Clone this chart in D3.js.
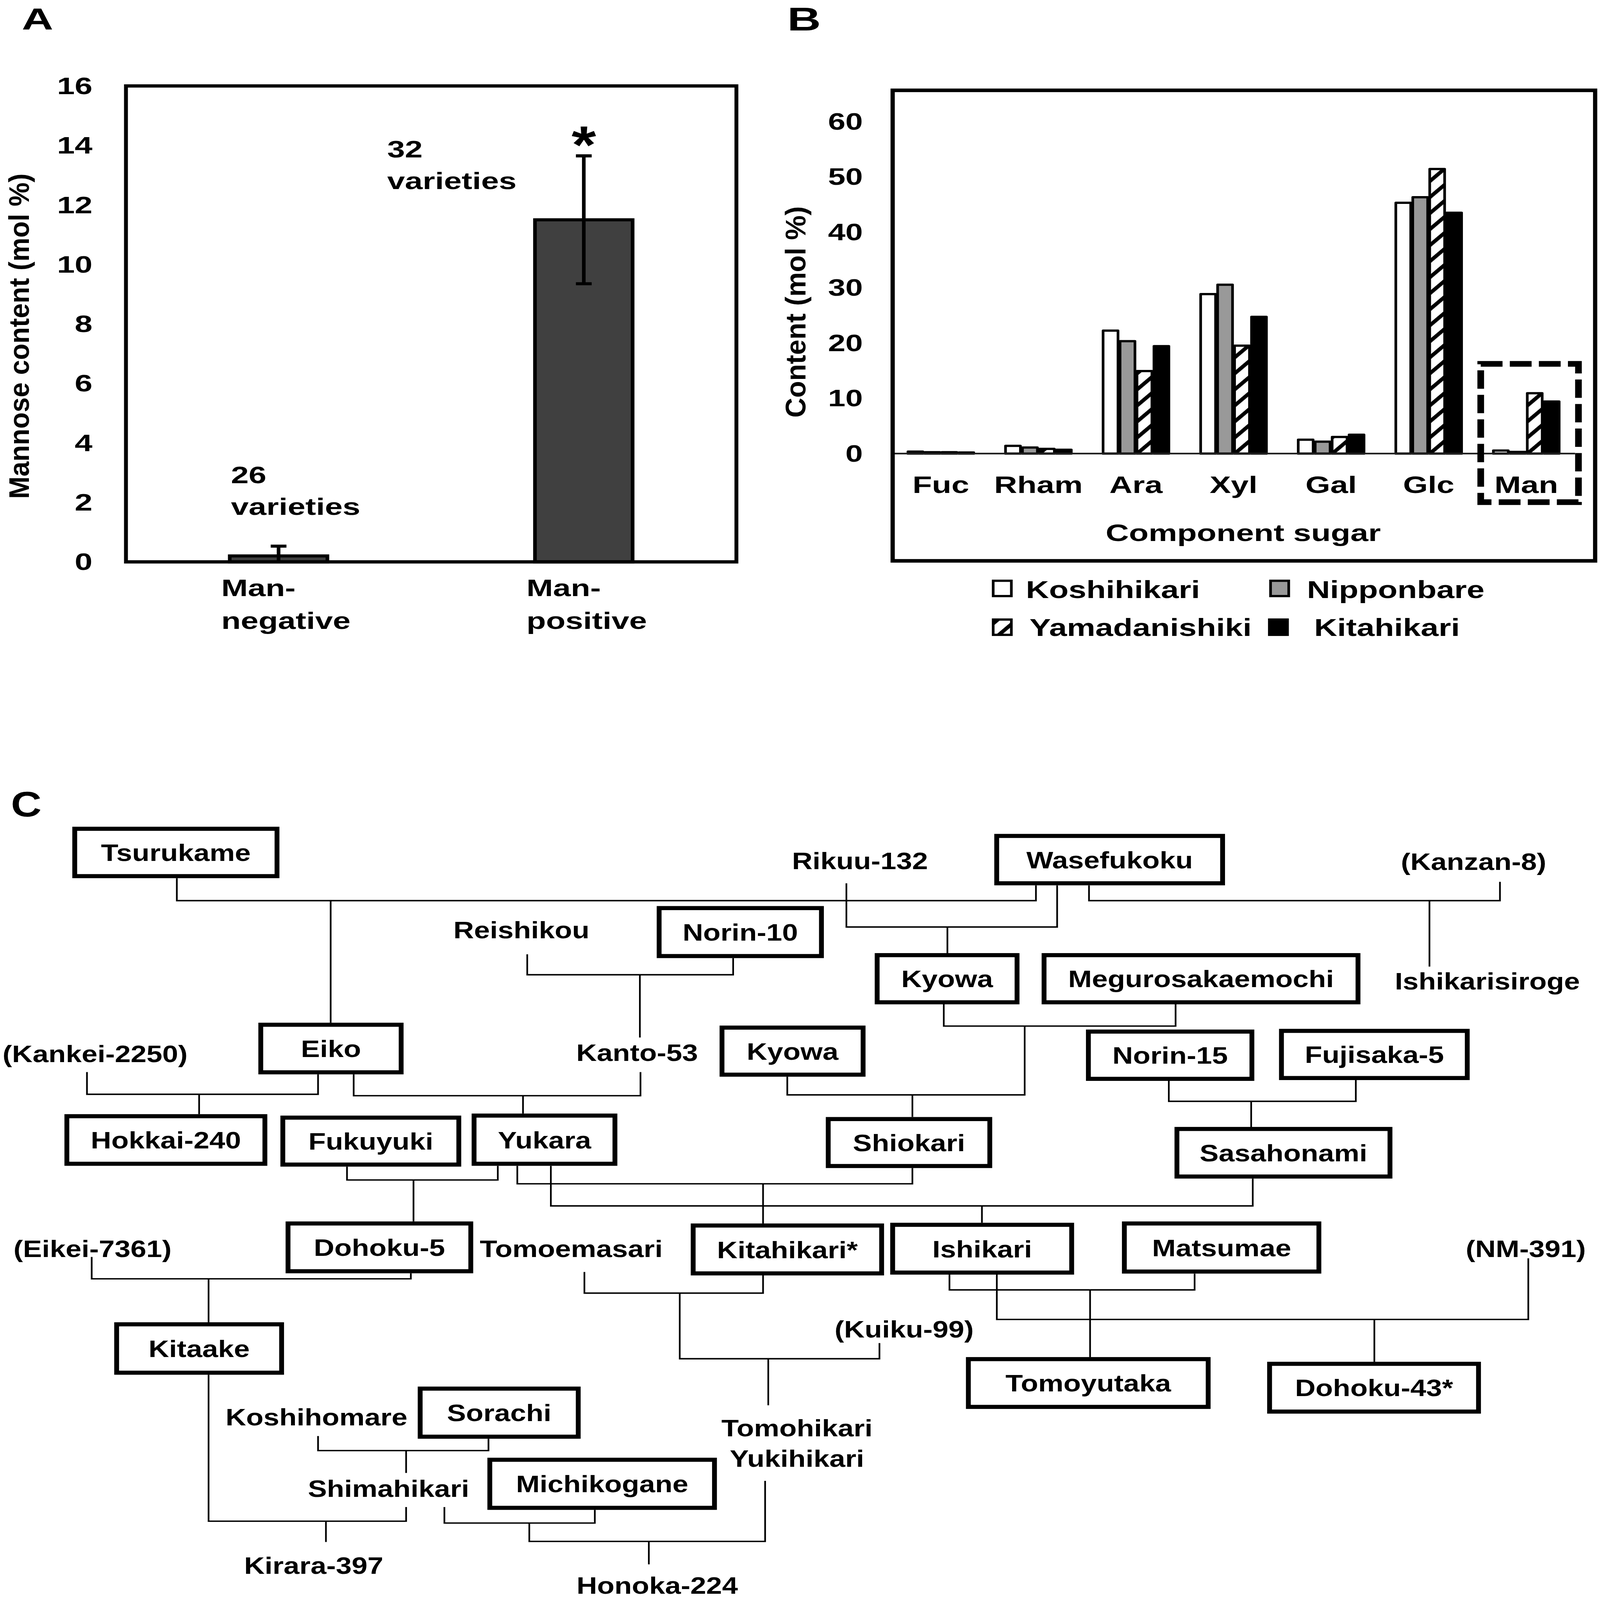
<!DOCTYPE html>
<html>
<head>
<meta charset="utf-8">
<script src="https://cdn.jsdelivr.net/npm/d3@7"></script>
<style>
  html, body { margin: 0; padding: 0; background: #fff; overflow: hidden; }
  svg { display: block; width: 100vw; height: 100vh; }
</style>
</head>
<body>
<div id="chart"></div>
<script>
// ---- panel A data ----
const groupsA = ['Man-negative', 'Man-positive'];
const axisLabelsA = [['Man-', 'negative'], ['Man-', 'positive']];
const meanA = [0.2, 11.5];
const errA = [0.33, 2.15];
const countsA = ['26', '32'];
const ticksA = [0, 2, 4, 6, 8, 10, 12, 14, 16];

// ---- panel B data ----
const sugars = ['Fuc', 'Rham', 'Ara', 'Xyl', 'Gal', 'Glc', 'Man'];
const varieties = ['Koshihikari', 'Nipponbare', 'Yamadanishiki', 'Kitahikari'];
const koshihikari = [0.35, 1.4, 22.2, 28.8, 2.5, 45.3, 0.55];
const nipponbare = [0.25, 1.1, 20.3, 30.5, 2.15, 46.3, 0.3];
const yamadanishiki = [0.25, 0.85, 14.9, 19.5, 3.0, 51.4, 10.9];
const kitahikari = [0.2, 0.7, 19.4, 24.7, 3.4, 43.5, 9.4];
const ticksB = [0, 10, 20, 30, 40, 50, 60];

// ---- panel C data (pedigree) ----
const registered = ['Tsurukame', 'Wasefukoku', 'Norin-10', 'Kyowa/a', 'Megurosakaemochi', 'Eiko',
  'Kyowa/b', 'Norin-15', 'Fujisaka-5', 'Hokkai-240', 'Fukuyuki', 'Yukara', 'Shiokari', 'Sasahonami',
  'Dohoku-5', 'Kitahikari*', 'Ishikari', 'Matsumae', 'Kitaake', 'Sorachi', 'Michikogane',
  'Tomoyutaka', 'Dohoku-43*'];
const others = ['Rikuu-132', '(Kanzan-8)', 'Reishikou', 'Ishikarisiroge', '(Kankei-2250)', 'Kanto-53',
  '(Eikei-7361)', 'Tomoemasari', '(NM-391)', '(Kuiku-99)', 'Koshihomare', 'Tomohikari/Yukihikari',
  'Shimahikari', 'Kirara-397', 'Honoka-224'];
// [mother, father, offspring]; F1-x are unnamed intermediate crosses
const crosses = [
  ['Tsurukame', 'Wasefukoku', 'Eiko'],
  ['Rikuu-132', 'Wasefukoku', 'Kyowa/a'],
  ['Wasefukoku', '(Kanzan-8)', 'Ishikarisiroge'],
  ['Reishikou', 'Norin-10', 'Kanto-53'],
  ['(Kankei-2250)', 'Eiko', 'Hokkai-240'],
  ['Eiko', 'Kanto-53', 'Yukara'],
  ['Kyowa/a', 'Megurosakaemochi', 'F1-a'],
  ['Kyowa/b', 'F1-a', 'Shiokari'],
  ['Norin-15', 'Fujisaka-5', 'Sasahonami'],
  ['Fukuyuki', 'Yukara', 'Dohoku-5'],
  ['Yukara', 'Shiokari', 'Kitahikari*'],
  ['Yukara', 'Sasahonami', 'Ishikari'],
  ['(Eikei-7361)', 'Dohoku-5', 'Kitaake'],
  ['Tomoemasari', 'Kitahikari*', 'F1-b'],
  ['F1-b', '(Kuiku-99)', 'Tomohikari/Yukihikari'],
  ['Ishikari', 'Matsumae', 'Tomoyutaka'],
  ['Ishikari', '(NM-391)', 'Dohoku-43*'],
  ['Koshihomare', 'Sorachi', 'Shimahikari'],
  ['Kitaake', 'Shimahikari', 'Kirara-397'],
  ['Shimahikari', 'Michikogane', 'F1-c'],
  ['F1-c', 'Tomohikari/Yukihikari', 'Honoka-224']
];

// ---- pedigree layout (diagram coordinates) ----
const boxPos = {
  'Tsurukame': [61.7, 812, 167, 46.4], 'Wasefukoku': [822.9, 819, 186.5, 46.4],
  'Norin-10': [544.2, 889.7, 134, 47], 'Kyowa/a': [724.2, 935.8, 115.5, 46.2],
  'Megurosakaemochi': [862, 935.8, 259.2, 46.2], 'Eiko': [215.3, 1004, 115.9, 46.6],
  'Kyowa/b': [596.1, 1006.8, 116.5, 46.1], 'Norin-15': [898.6, 1010.7, 135, 46.3],
  'Fujisaka-5': [1058, 1010, 153.4, 46.2], 'Hokkai-240': [55.2, 1093.6, 163.5, 46.6],
  'Fukuyuki': [233.5, 1095, 145.3, 46], 'Yukara': [391.4, 1093, 116.3, 47.2],
  'Shiokari': [683.8, 1096.4, 133.4, 46], 'Sasahonami': [971.7, 1106.1, 175.9, 46.6],
  'Dohoku-5': [237.8, 1198.7, 150.9, 46.8], 'Kitahikari*': [572.3, 1200.7, 155.6, 46.9],
  'Ishikari': [737, 1200, 147.8, 46.8], 'Matsumae': [928.3, 1198.7, 160.6, 47.1],
  'Kitaake': [96.3, 1297.5, 136.2, 47.4], 'Sorachi': [346.9, 1360.5, 130.5, 47.1],
  'Michikogane': [404.4, 1430.2, 185.5, 47.1], 'Tomoyutaka': [799.5, 1331.6, 198, 46.8],
  'Dohoku-43*': [1048.2, 1336.2, 172.5, 46.8]
};
// [centre x, cap-centre y, line end above, line start below]
const labelPos = {
  'Rikuu-132': [710, 843, null, 865.4], '(Kanzan-8)': [1216.6, 844, null, 864],
  'Reishikou': [430.5, 910.7, null, 935], 'Ishikarisiroge': [1228, 961, 947, null],
  '(Kankei-2250)': [78.5, 1032, null, 1050.4], 'Kanto-53': [526, 1031, 1016.5, 1050.4],
  '(Eikei-7361)': [76.4, 1223, null, 1231.5], 'Tomoemasari': [471.6, 1223, null, 1246.2],
  '(NM-391)': [1259.7, 1223, null, 1232.8], '(Kuiku-99)': [746.5, 1302, null, 1315.9],
  'Koshihomare': [261.3, 1388, null, 1407], 'Tomohikari/Yukihikari': [658, 1399, 1376.8, 1450.9],
  'Shimahikari': [320.8, 1458, 1443.1, 1476.5], 'Kirara-397': [259, 1533.5, 1510.8, null],
  'Honoka-224': [542.6, 1553, 1532.7, null]
};
// [drop x mother, drop x father, bar y, offspring x]
const crossPos = [
  [146, 855.3, 882.4, 273], [698.8, 872.8, 908.2, 782.2], [899.1, 1238.4, 882.4, 1180.2],
  [435.3, 605.3, 955, 528.3], [71.8, 262.6, 1072.1, 164.4], [292, 528.8, 1073.5, 431.8],
  [779.2, 970.6, 1005.3, 846], [650, 846, 1072.7, 753.3], [965, 1119.4, 1079, 1033],
  [286.5, 411, 1156.1, 341.4], [427.1, 753.3, 1159.8, 630], [454.8, 1034.3, 1181.5, 810.7],
  [75.7, 339.2, 1252.9, 172.2], [482.5, 630, 1266.9, 561.2], [561.2, 726.1, 1331.2, 634.3],
  [783.9, 986.3, 1263.8, 900], [823, 1261.8, 1292.7, 1134.7], [262.6, 403.3, 1421.2, 335.3],
  [172.2, 335.3, 1490.4, 269.1], [366.9, 491.1, 1492.2, 437], [437, 631.7, 1510.2, 535.7]
];

const W = 1321, H = 1567.6;
const svg = d3.select('#chart').append('svg')
  .attr('xmlns', 'http://www.w3.org/2000/svg')
  .attr('viewBox', '0 0 ' + W + ' ' + H)
  .attr('preserveAspectRatio', 'none')
  .style('font-family', "'Liberation Sans', Arial, sans-serif")
  .style('font-weight', 'bold');

svg.append('rect').attr('width', W).attr('height', H).attr('fill', '#fff');

let put = (g, x, y, str, size, opts = {}) => {
  return g.append('text')
    .attr('transform', 'translate(' + x + ',' + y + ')' + (opts.rotate ? ' rotate(' + opts.rotate + ')' : '') +
      ' scale(' + (opts.sx || 1) + ',1)')
    .attr('text-anchor', opts.anchor || 'start')
    .attr('font-size', size)
    .attr('fill', '#000')
    .text(str);
};

let cleanAxis = (g, size, sx) => {
  g.select('.domain').remove();
  g.attr('font-family', null).attr('font-size', size);
  g.selectAll('text').attr('fill', '#000').attr('transform', 'scale(' + sx + ',1)');
};

// ================= Panel A =================
const gA = svg.append('g');
const yA = d3.scaleLinear().domain([0, 16]).range([550.5, 84.2]);
const xA = d3.scaleBand().domain(groupsA).range([104, 608]).paddingInner(0.68).paddingOuter(0.34);

put(gA, 18, 29, 'A', 30, { sx: 1.2 });

gA.append('g').attr('transform', 'translate(104,0)')
  .call(d3.axisLeft(yA).tickValues(ticksA).tickSize(0).tickPadding(24.7))
  .call(g => cleanAxis(g, 23.5, 1.12));

put(gA, 24, (yA(16) + yA(0)) / 2 + 12, 'Mannose content (mol %)', 23.5, { rotate: -90, anchor: 'middle', sx: 1.12 });

gA.selectAll('rect.bar').data(groupsA).join('rect')
  .attr('class', 'bar')
  .attr('x', d => xA(d))
  .attr('width', xA.bandwidth())
  .attr('y', (d, i) => yA(meanA[i]))
  .attr('height', (d, i) => yA(0) - yA(meanA[i]))
  .attr('fill', '#404040')
  .attr('stroke', '#000')
  .attr('stroke-width', 3);

// error bars
gA.selectAll('path.err').data(groupsA).join('path')
  .attr('class', 'err')
  .attr('d', (d, i) => {
    const cx = xA(d) + xA.bandwidth() / 2;
    const top = yA(meanA[i] + errA[i]);
    const lowV = meanA[i] - errA[i];
    const bot = yA(Math.max(0, lowV));
    let p = 'M' + (cx - 6.5) + ',' + top + 'H' + (cx + 6.5) + 'M' + cx + ',' + top + 'V' + bot;
    if (lowV > 0) p += 'M' + (cx - 6.5) + ',' + bot + 'H' + (cx + 6.5);
    return p;
  })
  .attr('fill', 'none').attr('stroke', '#000').attr('stroke-width', 3);

// significance mark
const posX = xA('Man-positive') + xA.bandwidth() / 2;
put(gA, posX, yA(meanA[1] + errA[1]) + 7, '*', 52, { anchor: 'middle' });

// sample counts
put(gA, xA('Man-positive') - 122, yA(13.6), countsA[1], 23.5, { sx: 1.12 });
put(gA, xA('Man-positive') - 122, yA(13.6) + 31, 'varieties', 23.5, { sx: 1.12 });
put(gA, xA('Man-negative') + 1, yA(2.65), countsA[0], 23.5, { sx: 1.12 });
put(gA, xA('Man-negative') + 1, yA(2.65) + 31, 'varieties', 23.5, { sx: 1.12 });

// category labels
groupsA.forEach((d, i) => {
  put(gA, xA(d) - 7, 584, axisLabelsA[i][0], 23.5, { sx: 1.12 });
  put(gA, xA(d) - 7, 616, axisLabelsA[i][1], 23.5, { sx: 1.12 });
});

gA.append('rect')
  .attr('x', 104).attr('y', yA(16))
  .attr('width', 504).attr('height', yA(0) - yA(16))
  .attr('fill', 'none').attr('stroke', '#000').attr('stroke-width', 3.2);

// ================= Panel B =================
const gB = svg.append('g');
const yB = d3.scaleLinear().domain([0, 60]).range([444.4, 118.9]);
const xB = d3.scaleBand().domain(sugars).range([736.5, 1300.4]).paddingInner(0.305).paddingOuter(0.1525);
const xS = d3.scaleBand().domain(varieties).range([0, xB.bandwidth()]).paddingInner(0.12).paddingOuter(0.06);
const seriesB = [koshihikari, nipponbare, yamadanishiki, kitahikari];

const defs = svg.append('defs');
defs.append('pattern')
  .attr('id', 'hatch')
  .attr('patternUnits', 'userSpaceOnUse')
  .attr('width', 11.1).attr('height', 11.1)
  .attr('patternTransform', 'rotate(45)')
  .call(p => p.append('rect').attr('width', 11.1).attr('height', 11.1).attr('fill', '#fff'))
  .call(p => p.append('rect').attr('width', 3.4).attr('height', 11.1).attr('fill', '#000'));

const fillB = d3.scaleOrdinal().domain(varieties).range(['#ffffff', '#999999', 'url(#hatch)', '#000000']);

put(gB, 650, 30, 'B', 32, { sx: 1.2 });

gB.append('g').attr('transform', 'translate(737,0)')
  .call(d3.axisLeft(yB).tickValues(ticksB).tickSize(0).tickPadding(22.4))
  .call(g => cleanAxis(g, 23.5, 1.1));

put(gB, 665, (yB(0) + yB(60)) / 2 + 24, 'Content (mol %)', 23.5, { rotate: -90, anchor: 'middle', sx: 1.15 });

const groupB = gB.selectAll('g.sugar').data(sugars).join('g')
  .attr('class', 'sugar')
  .attr('transform', d => 'translate(' + xB(d) + ',0)');

groupB.selectAll('rect').data((d, i) => varieties.map((v, j) => ({ v: v, val: seriesB[j][i] }))).join('rect')
  .attr('x', d => xS(d.v))
  .attr('width', xS.bandwidth())
  .attr('y', d => yB(d.val))
  .attr('height', d => yB(0) - yB(d.val))
  .attr('fill', d => fillB(d.v))
  .attr('stroke', '#000')
  .attr('stroke-width', 2.2)
  .attr('stroke-linejoin', 'round');

gB.append('line')
  .attr('x1', 737).attr('x2', 1300.4)
  .attr('y1', yB(0)).attr('y2', yB(0))
  .attr('stroke', '#222').attr('stroke-width', 1.6);

sugars.forEach(s => {
  put(gB, xB(s) + xB.bandwidth() / 2, 483, s, 23.5, { anchor: 'middle', sx: 1.12 });
});
put(gB, (xB.range()[0] + xB.range()[1]) / 2 + 8, 530, 'Component sugar', 23.5, { anchor: 'middle', sx: 1.13 });

// dashed highlight round Man
const manX = xB('Man');
gB.append('rect')
  .attr('x', manX - 9.6).attr('y', yB(16.2))
  .attr('width', xB.bandwidth() + 24.7).attr('height', 495 - 3 - yB(16.2))
  .attr('fill', 'none').attr('stroke', '#000').attr('stroke-width', 5.5)
  .attr('stroke-dasharray', '18,6');

gB.append('rect')
  .attr('x', 737).attr('y', 88.5)
  .attr('width', 580).attr('height', 461)
  .attr('fill', 'none').attr('stroke', '#000').attr('stroke-width', 3.5);

// legend
const legendPos = [[820, 569, 847, 586], [1049, 569, 1079, 586], [820, 607, 850, 623], [1048, 607, 1085, 623]];
const legend = gB.selectAll('g.legend').data(varieties).join('g').attr('class', 'legend');
legend.append('rect')
  .attr('x', (d, i) => legendPos[i][0]).attr('y', (d, i) => legendPos[i][1])
  .attr('width', 15).attr('height', 15)
  .attr('fill', d => fillB(d)).attr('stroke', '#000').attr('stroke-width', 2.2);
legend.each(function (d, i) {
  put(d3.select(this), legendPos[i][2], legendPos[i][3], d, 24, { sx: 1.1 });
});

// ================= Panel C =================
const gC = svg.append('g');
put(gC, 9, 800, 'C', 35);

const producedBy = {};
crosses.forEach((c, i) => { producedBy[c[2]] = i; });

let bottomOf = (id) => {
  if (boxPos[id]) return boxPos[id][1] + boxPos[id][3] + 2;
  if (labelPos[id]) return labelPos[id][3];
  return crossPos[producedBy[id]][2];
};
let topOf = (id) => {
  if (boxPos[id]) return boxPos[id][1] - 2;
  if (labelPos[id]) return labelPos[id][2];
  return crossPos[producedBy[id]][2];
};

gC.selectAll('path.cross').data(crosses).join('path')
  .attr('class', 'cross')
  .attr('d', (c, i) => {
    const [xa, xb, yb, xc] = crossPos[i];
    return 'M' + xa + ',' + bottomOf(c[0]) + 'V' + yb + 'H' + xb + 'V' + bottomOf(c[1]) +
      'M' + xc + ',' + yb + 'V' + topOf(c[2]);
  })
  .attr('fill', 'none').attr('stroke', '#000').attr('stroke-width', 1.4);

const fs = 23.5;
const capShift = fs * 0.358;

const boxes = gC.selectAll('g.box').data(registered).join('g').attr('class', 'box');
boxes.append('rect')
  .attr('x', d => boxPos[d][0]).attr('y', d => boxPos[d][1])
  .attr('width', d => boxPos[d][2]).attr('height', d => boxPos[d][3])
  .attr('fill', '#fff').attr('stroke', '#000').attr('stroke-width', 4);
boxes.append('text')
  .attr('x', d => boxPos[d][0] + boxPos[d][2] / 2)
  .attr('y', d => boxPos[d][1] + boxPos[d][3] / 2 + capShift)
  .attr('text-anchor', 'middle')
  .attr('font-size', fs)
  .text(d => d.split('/')[0]);

others.forEach(d => {
  const [cx, cy] = labelPos[d];
  d.split('/').forEach((line, k) => {
    put(gC, cx, cy + capShift + k * 29.7, line, fs, { anchor: 'middle' });
  });
});
</script>
</body>
</html>
